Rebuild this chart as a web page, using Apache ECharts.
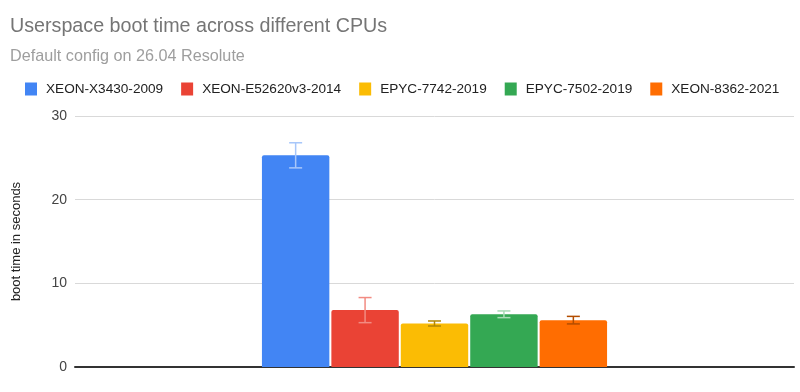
<!DOCTYPE html>
<html>
<head>
<meta charset="utf-8">
<script src="https://cdn.jsdelivr.net/npm/echarts@6/dist/echarts.min.js"></script>
<style>html,body{margin:0;padding:0;background:#fff}#c{width:800px;height:392px}</style>
</head>
<body>
<div id="c"></div>
<script>
const seriesNames = ['XEON-X3430-2009', 'XEON-E52620v3-2014', 'EPYC-7742-2019', 'EPYC-7502-2019', 'XEON-8362-2021'];
const means = [25.3, 6.8, 5.2, 6.3, 5.6];
const errors = [1.5, 1.5, 0.3, 0.4, 0.45];
const barColors = ['#4285f4', '#ea4335', '#fbbc04', '#34a853', '#ff6d01'];
const errColors = ['#a8c7fa', '#f28b82', '#b28704', '#a8dab5', '#b34d00'];
const yTicks = [0, 10, 20, 30];

const CAT_GAP = 0.52, BAR_GAP = 0.03;
const n = seriesNames.length;

const chart = echarts.init(document.getElementById('c'), null, {renderer: 'canvas'});
const font = '"Liberation Sans", Arial, sans-serif';

const barSeries = seriesNames.map((name, i) => ({
  name: name,
  type: 'bar',
  data: [means[i]],
  barCategoryGap: (CAT_GAP * 100) + '%',
  barGap: (BAR_GAP * 100) + '%',
  itemStyle: {color: barColors[i], borderRadius: [2, 2, 0, 0]},
  emphasis: {disabled: true}
}));

const errSeries = seriesNames.map((name, i) => ({
  name: name,
  type: 'custom',
  z: 10,
  data: [[0, means[i] - errors[i], means[i] + errors[i]]],
  renderItem: function (params, api) {
    const band = api.size([1, 0])[0];
    const remained = band - band * CAT_GAP;
    const w = remained / (n + (n - 1) * BAR_GAP);
    const sum = n * w + (n - 1) * w * BAR_GAP;
    const off = -sum / 2 + i * w * (1 + BAR_GAP) + w / 2;
    const lo = api.coord([api.value(0), api.value(1)]);
    const hi = api.coord([api.value(0), api.value(2)]);
    const x = lo[0] + off;
    const cap = 6.5;
    const style = {stroke: errColors[i], lineWidth: 1.5, fill: null};
    return {
      type: 'group',
      children: [
        {type: 'line', shape: {x1: x, y1: hi[1], x2: x, y2: lo[1]}, style: style},
        {type: 'line', shape: {x1: x - cap, y1: hi[1], x2: x + cap, y2: hi[1]}, style: style},
        {type: 'line', shape: {x1: x - cap, y1: lo[1], x2: x + cap, y2: lo[1]}, style: style}
      ]
    };
  }
}));

chart.setOption({
  animation: false,
  backgroundColor: '#ffffff',
  title: [
    {text: 'Userspace boot time across different CPUs', left: 5, top: 12,
     textStyle: {fontFamily: font, fontSize: 19.7, fontWeight: 'normal', color: '#757575'}},
    {text: 'Default config on 26.04 Resolute', left: 5, top: 44,
     textStyle: {fontFamily: font, fontSize: 16.2, fontWeight: 'normal', color: '#9e9e9e'}}
  ],
  legend: {
    data: seriesNames,
    left: 20, top: 77,
    itemWidth: 12, itemHeight: 13, itemGap: 18,
    icon: 'rect',
    textStyle: {fontFamily: font, fontSize: 13.6, color: '#222', padding: [0, 0, 0, 4]}
  },
  grid: {left: 75, right: 6, top: 116, bottom: 25},
  xAxis: {
    type: 'category',
    data: [''],
    axisLine: {lineStyle: {color: '#333', width: 2}},
    axisTick: {show: false},
    axisLabel: {show: false}
  },
  yAxis: {
    type: 'value',
    min: yTicks[0], max: yTicks[yTicks.length - 1], interval: 10,
    name: 'boot time in seconds',
    nameLocation: 'middle',
    nameRotate: 90,
    nameGap: 52,
    nameTextStyle: {fontFamily: font, fontSize: 13, color: '#222'},
    axisLine: {show: false},
    axisTick: {show: false},
    axisLabel: {fontFamily: font, fontSize: 14, color: '#444', margin: 8},
    splitLine: {lineStyle: {color: '#d9d9d9', width: 1}}
  },
  series: barSeries.concat(errSeries)
});
</script>
</body>
</html>
